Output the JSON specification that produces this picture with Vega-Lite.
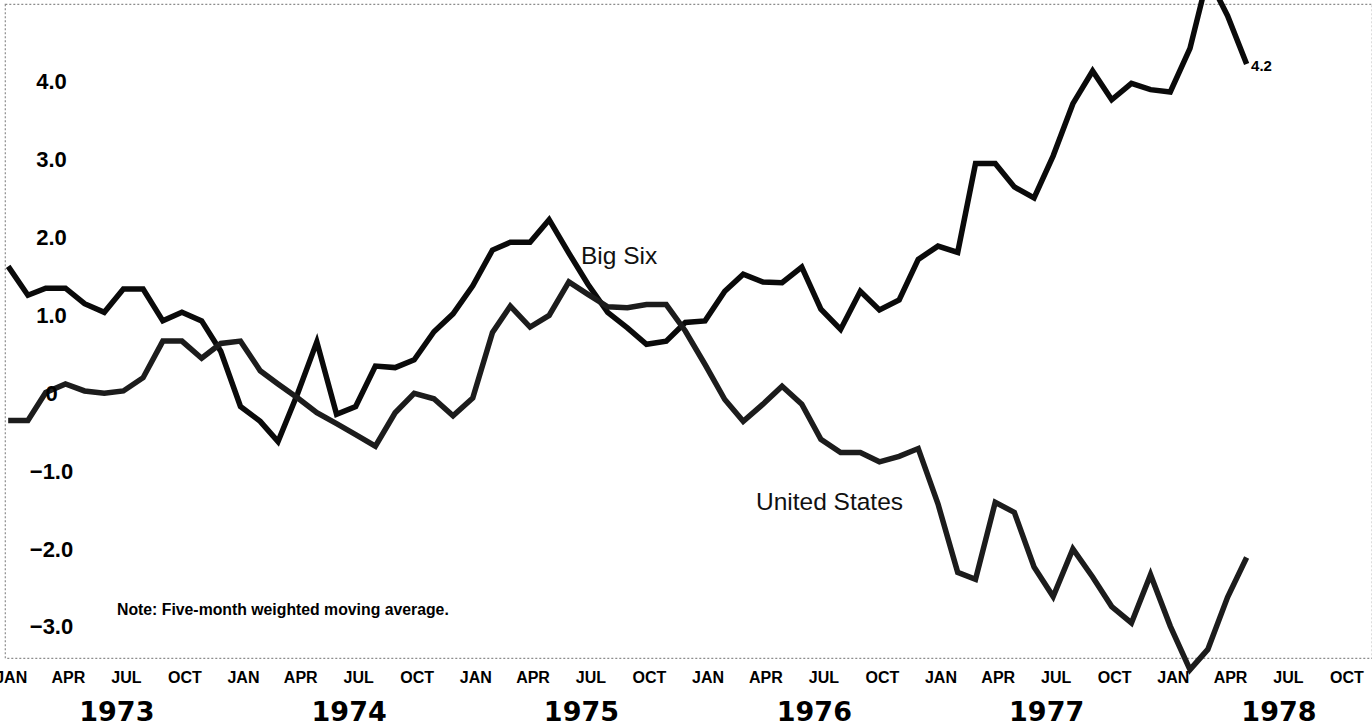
{
  "$schema": "https://vega.github.io/schema/vega-lite/v6.json",
  "width": 1367,
  "height": 654,
  "autosize": {"type": "none"},
  "padding": {"left": 5, "top": 4, "right": 0, "bottom": 69},
  "background": "white",
  "config": {
    "view": {"stroke": "#8c8c8c", "strokeWidth": 1.2, "strokeDash": [2, 2]},
    "font": "Liberation Sans"
  },
  "datasets": {
    "series": [
      {"date": "1973-01-01", "series": "Big Six", "value": 1.63},
      {"date": "1973-02-01", "series": "Big Six", "value": 1.26},
      {"date": "1973-03-01", "series": "Big Six", "value": 1.35},
      {"date": "1973-04-01", "series": "Big Six", "value": 1.35},
      {"date": "1973-05-01", "series": "Big Six", "value": 1.15},
      {"date": "1973-06-01", "series": "Big Six", "value": 1.04},
      {"date": "1973-07-01", "series": "Big Six", "value": 1.34},
      {"date": "1973-08-01", "series": "Big Six", "value": 1.34},
      {"date": "1973-09-01", "series": "Big Six", "value": 0.93},
      {"date": "1973-10-01", "series": "Big Six", "value": 1.04},
      {"date": "1973-11-01", "series": "Big Six", "value": 0.93},
      {"date": "1973-12-01", "series": "Big Six", "value": 0.54},
      {"date": "1974-01-01", "series": "Big Six", "value": -0.17},
      {"date": "1974-02-01", "series": "Big Six", "value": -0.36},
      {"date": "1974-03-01", "series": "Big Six", "value": -0.62},
      {"date": "1974-04-01", "series": "Big Six", "value": 0.0},
      {"date": "1974-05-01", "series": "Big Six", "value": 0.66},
      {"date": "1974-06-01", "series": "Big Six", "value": -0.27},
      {"date": "1974-07-01", "series": "Big Six", "value": -0.17},
      {"date": "1974-08-01", "series": "Big Six", "value": 0.35},
      {"date": "1974-09-01", "series": "Big Six", "value": 0.33},
      {"date": "1974-10-01", "series": "Big Six", "value": 0.43},
      {"date": "1974-11-01", "series": "Big Six", "value": 0.79},
      {"date": "1974-12-01", "series": "Big Six", "value": 1.02},
      {"date": "1975-01-01", "series": "Big Six", "value": 1.38},
      {"date": "1975-02-01", "series": "Big Six", "value": 1.84},
      {"date": "1975-03-01", "series": "Big Six", "value": 1.94},
      {"date": "1975-04-01", "series": "Big Six", "value": 1.94},
      {"date": "1975-05-01", "series": "Big Six", "value": 2.23},
      {"date": "1975-06-01", "series": "Big Six", "value": 1.80},
      {"date": "1975-07-01", "series": "Big Six", "value": 1.40},
      {"date": "1975-08-01", "series": "Big Six", "value": 1.04},
      {"date": "1975-09-01", "series": "Big Six", "value": 0.84},
      {"date": "1975-10-01", "series": "Big Six", "value": 0.63},
      {"date": "1975-11-01", "series": "Big Six", "value": 0.67},
      {"date": "1975-12-01", "series": "Big Six", "value": 0.91},
      {"date": "1976-01-01", "series": "Big Six", "value": 0.93},
      {"date": "1976-02-01", "series": "Big Six", "value": 1.31},
      {"date": "1976-03-01", "series": "Big Six", "value": 1.53},
      {"date": "1976-04-01", "series": "Big Six", "value": 1.43},
      {"date": "1976-05-01", "series": "Big Six", "value": 1.42},
      {"date": "1976-06-01", "series": "Big Six", "value": 1.62},
      {"date": "1976-07-01", "series": "Big Six", "value": 1.08},
      {"date": "1976-08-01", "series": "Big Six", "value": 0.82},
      {"date": "1976-09-01", "series": "Big Six", "value": 1.31},
      {"date": "1976-10-01", "series": "Big Six", "value": 1.07},
      {"date": "1976-11-01", "series": "Big Six", "value": 1.20},
      {"date": "1976-12-01", "series": "Big Six", "value": 1.72},
      {"date": "1977-01-01", "series": "Big Six", "value": 1.89},
      {"date": "1977-02-01", "series": "Big Six", "value": 1.81},
      {"date": "1977-03-01", "series": "Big Six", "value": 2.95},
      {"date": "1977-04-01", "series": "Big Six", "value": 2.95},
      {"date": "1977-05-01", "series": "Big Six", "value": 2.65},
      {"date": "1977-06-01", "series": "Big Six", "value": 2.51},
      {"date": "1977-07-01", "series": "Big Six", "value": 3.05},
      {"date": "1977-08-01", "series": "Big Six", "value": 3.72},
      {"date": "1977-09-01", "series": "Big Six", "value": 4.14},
      {"date": "1977-10-01", "series": "Big Six", "value": 3.77},
      {"date": "1977-11-01", "series": "Big Six", "value": 3.98},
      {"date": "1977-12-01", "series": "Big Six", "value": 3.90},
      {"date": "1978-01-01", "series": "Big Six", "value": 3.87},
      {"date": "1978-02-01", "series": "Big Six", "value": 4.43},
      {"date": "1978-03-01", "series": "Big Six", "value": 5.35},
      {"date": "1978-04-01", "series": "Big Six", "value": 4.85},
      {"date": "1978-05-01", "series": "Big Six", "value": 4.23},
      {"date": "1973-01-01", "series": "United States", "value": -0.35},
      {"date": "1973-02-01", "series": "United States", "value": -0.35},
      {"date": "1973-03-01", "series": "United States", "value": 0.01},
      {"date": "1973-04-01", "series": "United States", "value": 0.12},
      {"date": "1973-05-01", "series": "United States", "value": 0.03},
      {"date": "1973-06-01", "series": "United States", "value": 0.0},
      {"date": "1973-07-01", "series": "United States", "value": 0.03},
      {"date": "1973-08-01", "series": "United States", "value": 0.20},
      {"date": "1973-09-01", "series": "United States", "value": 0.67},
      {"date": "1973-10-01", "series": "United States", "value": 0.67},
      {"date": "1973-11-01", "series": "United States", "value": 0.45},
      {"date": "1973-12-01", "series": "United States", "value": 0.64},
      {"date": "1974-01-01", "series": "United States", "value": 0.67},
      {"date": "1974-02-01", "series": "United States", "value": 0.29},
      {"date": "1974-03-01", "series": "United States", "value": 0.12},
      {"date": "1974-04-01", "series": "United States", "value": -0.06},
      {"date": "1974-05-01", "series": "United States", "value": -0.25},
      {"date": "1974-06-01", "series": "United States", "value": -0.39},
      {"date": "1974-07-01", "series": "United States", "value": -0.53},
      {"date": "1974-08-01", "series": "United States", "value": -0.68},
      {"date": "1974-09-01", "series": "United States", "value": -0.25},
      {"date": "1974-10-01", "series": "United States", "value": 0.0},
      {"date": "1974-11-01", "series": "United States", "value": -0.07},
      {"date": "1974-12-01", "series": "United States", "value": -0.29},
      {"date": "1975-01-01", "series": "United States", "value": -0.06},
      {"date": "1975-02-01", "series": "United States", "value": 0.78},
      {"date": "1975-03-01", "series": "United States", "value": 1.12},
      {"date": "1975-04-01", "series": "United States", "value": 0.85},
      {"date": "1975-05-01", "series": "United States", "value": 1.0},
      {"date": "1975-06-01", "series": "United States", "value": 1.43},
      {"date": "1975-07-01", "series": "United States", "value": 1.27},
      {"date": "1975-08-01", "series": "United States", "value": 1.11},
      {"date": "1975-09-01", "series": "United States", "value": 1.10},
      {"date": "1975-10-01", "series": "United States", "value": 1.14},
      {"date": "1975-11-01", "series": "United States", "value": 1.14},
      {"date": "1975-12-01", "series": "United States", "value": 0.80},
      {"date": "1976-01-01", "series": "United States", "value": 0.37},
      {"date": "1976-02-01", "series": "United States", "value": -0.08},
      {"date": "1976-03-01", "series": "United States", "value": -0.36},
      {"date": "1976-04-01", "series": "United States", "value": -0.14},
      {"date": "1976-05-01", "series": "United States", "value": 0.09},
      {"date": "1976-06-01", "series": "United States", "value": -0.14},
      {"date": "1976-07-01", "series": "United States", "value": -0.59},
      {"date": "1976-08-01", "series": "United States", "value": -0.76},
      {"date": "1976-09-01", "series": "United States", "value": -0.76},
      {"date": "1976-10-01", "series": "United States", "value": -0.88},
      {"date": "1976-11-01", "series": "United States", "value": -0.81},
      {"date": "1976-12-01", "series": "United States", "value": -0.71},
      {"date": "1977-01-01", "series": "United States", "value": -1.42},
      {"date": "1977-02-01", "series": "United States", "value": -2.30},
      {"date": "1977-03-01", "series": "United States", "value": -2.39},
      {"date": "1977-04-01", "series": "United States", "value": -1.40},
      {"date": "1977-05-01", "series": "United States", "value": -1.53},
      {"date": "1977-06-01", "series": "United States", "value": -2.23},
      {"date": "1977-07-01", "series": "United States", "value": -2.61},
      {"date": "1977-08-01", "series": "United States", "value": -2.00},
      {"date": "1977-09-01", "series": "United States", "value": -2.36},
      {"date": "1977-10-01", "series": "United States", "value": -2.74},
      {"date": "1977-11-01", "series": "United States", "value": -2.95},
      {"date": "1977-12-01", "series": "United States", "value": -2.33},
      {"date": "1978-01-01", "series": "United States", "value": -2.99},
      {"date": "1978-02-01", "series": "United States", "value": -3.55},
      {"date": "1978-03-01", "series": "United States", "value": -3.29},
      {"date": "1978-04-01", "series": "United States", "value": -2.62},
      {"date": "1978-05-01", "series": "United States", "value": -2.11}
    ],
    "seriesLabels": [
      {"date": "1975-06-20", "value": 1.75, "text": "Big Six"},
      {"date": "1976-03-21", "value": -1.41, "text": "United States"}
    ],
    "endLabel": [
      {"date": "1978-05-08", "value": 4.2, "text": "4.2"}
    ],
    "note": [
      {"date": "1973-06-21", "value": -2.78, "text": "Note: Five-month weighted moving average."}
    ],
    "years": [
      {"date": "1973-06-20"}, {"date": "1974-06-20"}, {"date": "1975-06-20"},
      {"date": "1976-06-20"}, {"date": "1977-06-20"}, {"date": "1978-06-20"}
    ]
  },
  "layer": [
    {
      "data": {"name": "series"},
      "mark": {"type": "line", "strokeWidth": 5.5, "strokeJoin": "miter", "strokeCap": "butt", "clip": false},
      "encoding": {
        "x": {
          "field": "date", "type": "temporal",
          "scale": {"type": "utc", "domain": [{"year": 1972, "month": 12, "date": 27, "utc": true}, {"year": 1978, "month": 11, "date": 14, "utc": true}]},
          "axis": {
            "orient": "bottom", "title": null, "grid": false, "domain": false, "ticks": false, "tickSize": 0,
            "tickCount": {"interval": "month", "step": 3},
            "labelExpr": "upper(utcFormat(datum.value, '%b'))",
            "labelFont": "Liberation Sans", "labelFontWeight": "bold", "labelFontSize": 16, "labelColor": "#000",
            "labelPadding": 11, "labelOffset": 2.5, "labelFlush": false, "labelOverlap": false, "labelBound": false, "zindex": 1
          }
        },
        "y": {
          "field": "value", "type": "quantitative",
          "scale": {"domain": [-3.4, 5.0], "nice": false, "zero": false},
          "axis": {
            "orient": "left", "title": null, "grid": false, "domain": false, "ticks": false, "tickSize": 0,
            "offset": -46,
            "values": [-3, -2, -1, 0, 1, 2, 3, 4],
            "labelExpr": "datum.value == 0 ? '0' : (datum.value < 0 ? '\u2212' + format(-datum.value, '.1f') : format(datum.value, '.1f'))",
            "labelFont": "Liberation Sans", "labelFontWeight": "bold", "labelFontSize": 22, "labelColor": "#000",
            "labelAlign": "center", "labelBaseline": "middle", "labelPadding": 0, "labelOverlap": false, "labelBound": false, "zindex": 1
          }
        },
        "color": {
          "field": "series", "type": "nominal",
          "scale": {"domain": ["Big Six", "United States"], "range": ["#0a0a0a", "#1c1c1c"]},
          "legend": null
        }
      }
    },
    {
      "data": {"name": "years"},
      "mark": {"type": "point", "opacity": 0},
      "encoding": {
        "x": {
          "field": "date", "type": "temporal",
          "axis": {
            "orient": "bottom", "title": null, "grid": false, "domain": false, "ticks": false, "tickSize": 0,
            "values": [
              {"year": 1973, "month": 6, "date": 20, "utc": true},
              {"year": 1974, "month": 6, "date": 20, "utc": true},
              {"year": 1975, "month": 6, "date": 20, "utc": true},
              {"year": 1976, "month": 6, "date": 20, "utc": true},
              {"year": 1977, "month": 6, "date": 20, "utc": true},
              {"year": 1978, "month": 6, "date": 20, "utc": true}
            ],
            "labelExpr": "utcFormat(datum.value, '%Y')",
            "labelFont": "DejaVu Sans", "labelFontWeight": "bold", "labelFontSize": 27, "labelColor": "#000",
            "labelPadding": 41, "labelFlush": false, "labelOverlap": false, "labelBound": false, "zindex": 1
          }
        }
      }
    },
    {
      "data": {"name": "seriesLabels"},
      "mark": {"type": "text", "align": "left", "baseline": "middle", "font": "Liberation Sans", "fontSize": 24.5, "color": "#111"},
      "encoding": {
        "x": {"field": "date", "type": "temporal", "axis": null},
        "y": {"field": "value", "type": "quantitative", "axis": null},
        "text": {"field": "text"}
      }
    },
    {
      "data": {"name": "endLabel"},
      "mark": {"type": "text", "align": "left", "baseline": "middle", "font": "Liberation Sans", "fontWeight": "bold", "fontSize": 15, "color": "#000"},
      "encoding": {
        "x": {"field": "date", "type": "temporal", "axis": null},
        "y": {"field": "value", "type": "quantitative", "axis": null},
        "text": {"field": "text"}
      }
    },
    {
      "data": {"name": "note"},
      "mark": {"type": "text", "align": "left", "baseline": "middle", "font": "Liberation Sans", "fontWeight": "bold", "fontSize": 15.8, "color": "#000"},
      "encoding": {
        "x": {"field": "date", "type": "temporal", "axis": null},
        "y": {"field": "value", "type": "quantitative", "axis": null},
        "text": {"field": "text"}
      }
    }
  ],
  "resolve": {"axis": {"x": "independent", "y": "independent"}}
}
